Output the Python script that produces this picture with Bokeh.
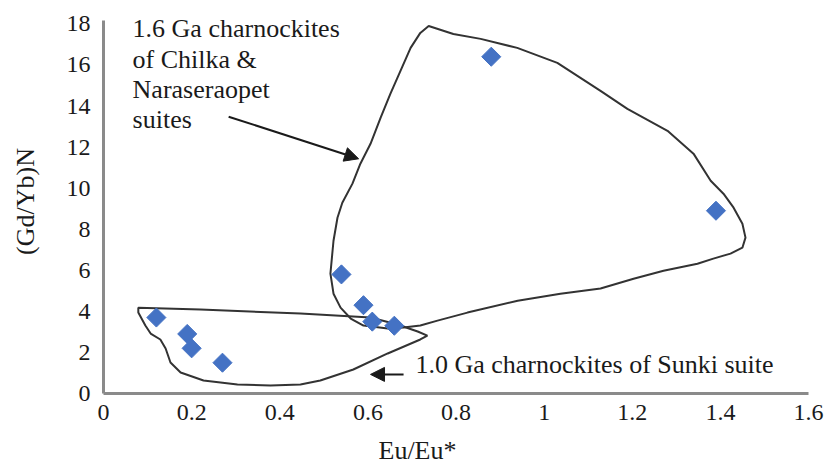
import numpy as np
from bokeh.plotting import figure
from bokeh.models import Arrow, NormalHead, Label, FixedTicker, Range1d, Title
from bokeh.embed import file_html
from bokeh.resources import INLINE

# ---- data ----
eu_eu = [0.12, 0.19, 0.20, 0.27, 0.54, 0.59, 0.61, 0.66, 0.88, 1.39]
gd_yb_n = [3.7, 2.9, 2.2, 1.5, 5.8, 4.3, 3.5, 3.3, 16.4, 8.9]

# envelope of 1.6 Ga charnockites (Chilka & Naraseraopet suites)
env16_x = [0.738, 0.794, 0.856, 0.939, 1.030, 1.128, 1.189, 1.280, 1.339, 1.378,
           1.407, 1.430, 1.450, 1.457, 1.450, 1.423, 1.384, 1.348, 1.271, 1.203,
           1.128, 1.037, 0.940, 0.826, 0.758, 0.719, 0.681, 0.645, 0.590, 0.561,
           0.538, 0.522, 0.515, 0.522, 0.531, 0.542, 0.565, 0.583, 0.606, 0.629,
           0.651, 0.674, 0.697, 0.719]
env16_y = [17.90, 17.51, 17.27, 16.83, 16.10, 14.74, 13.86, 12.79, 11.68, 10.36,
           9.73, 9.05, 8.27, 7.59, 7.10, 6.81, 6.57, 6.32, 5.98, 5.59,
           5.11, 4.86, 4.52, 3.94, 3.55, 3.31, 3.21, 3.16, 3.31, 3.65,
           4.18, 4.86, 5.84, 7.44, 8.56, 9.29, 10.22, 11.19, 12.16, 13.43,
           14.59, 15.71, 16.83, 17.56]

# envelope of 1.0 Ga charnockites (Sunki suite)
env10_x = [0.079, 0.220, 0.447, 0.606, 0.667, 0.713, 0.735, 0.719, 0.645, 0.567,
           0.492, 0.447, 0.379, 0.304, 0.227, 0.175, 0.152, 0.141, 0.129, 0.107,
           0.095, 0.079]
env10_y = [4.18, 4.09, 3.89, 3.70, 3.36, 3.02, 2.82, 2.63, 1.95, 1.17,
           0.63, 0.44, 0.39, 0.44, 0.63, 1.02, 1.51, 2.19, 2.63, 2.92,
           3.31, 3.94]

x_ticks = [0, 0.2, 0.4, 0.6, 0.8, 1.0, 1.2, 1.4, 1.6]
x_tick_labels = ["0", "0.2", "0.4", "0.6", "0.8", "1", "1.2", "1.4", "1.6"]
y_ticks = [0, 2, 4, 6, 8, 10, 12, 14, 16, 18]
y_tick_labels = [str(v) for v in y_ticks]

label_16 = "1.6 Ga charnockites\nof Chilka &\nNaraseraopet\nsuites"
label_10 = "1.0 Ga charnockites of Sunki suite"
x_title = "Eu/Eu*"
y_title = "(Gd/Yb)N"

FONT = "Liberation Serif"
TXT = "#1a1a1a"
AXC = "#8a8a8a"

p = figure(width=825, height=475, output_backend="svg", toolbar_location=None,
           x_range=Range1d(0, 1.6), y_range=Range1d(0, 18.7),
           min_border_left=103, min_border_right=17, min_border_top=9, min_border_bottom=82)
p.outline_line_color = None
p.xgrid.visible = False
p.ygrid.visible = False
p.background_fill_color = "white"

for ax in (p.xaxis[0], p.yaxis[0]):
    ax.axis_line_color = AXC
    ax.axis_line_width = 3
    ax.major_tick_line_color = None
    ax.minor_tick_line_color = None
    ax.major_tick_out = 0
    ax.major_tick_in = 0
    ax.major_label_text_font = FONT
    ax.major_label_text_font_size = "24px"
    ax.major_label_text_color = TXT

p.xaxis.ticker = FixedTicker(ticks=x_ticks)
p.xaxis.major_label_overrides = {t: l for t, l in zip(x_ticks, x_tick_labels)}
p.xaxis.major_label_standoff = 11
p.yaxis.ticker = FixedTicker(ticks=y_ticks)
p.yaxis.major_label_overrides = {t: l for t, l in zip(y_ticks, y_tick_labels)}
p.yaxis.major_label_standoff = 13
p.yaxis.bounds = (0, 18.15)

p.yaxis.axis_label = y_title
p.yaxis.axis_label_text_font = FONT
p.yaxis.axis_label_text_font_style = "normal"
p.yaxis.axis_label_text_font_size = "26px"
p.yaxis.axis_label_text_color = TXT
p.yaxis.axis_label_standoff = 24

p.add_layout(Title(text=x_title, align="left", offset=275, text_font=FONT,
                   text_font_size="26px", text_font_style="normal",
                   text_color=TXT, standoff=22), "below")

# envelopes
p.patch(env16_x, env16_y, fill_color=None, line_color="#333333", line_width=2)
p.patch(env10_x, env10_y, fill_color=None, line_color="#333333", line_width=2)

# data points (diamonds)
p.scatter(eu_eu, gd_yb_n, marker="square", angle=np.pi / 4, size=13.5,
          fill_color="#4472C4", line_color="#4472C4")

# annotations
p.add_layout(Label(x=0.066, y=18.46, text=label_16, text_font=FONT,
                   text_font_size="26px", text_color=TXT, text_baseline="top",
                   text_line_height=1.04))
p.add_layout(Label(x=0.708, y=1.41, text=label_10, text_font=FONT,
                   text_font_size="26px", text_color=TXT, text_baseline="alphabetic"))

p.add_layout(Arrow(end=NormalHead(size=14, fill_color="#1a1a1a", line_color="#1a1a1a"),
                   x_start=0.284, y_start=13.48, x_end=0.579, y_end=11.43,
                   line_color="#1a1a1a", line_width=2))
p.add_layout(Arrow(end=NormalHead(size=14, fill_color="#1a1a1a", line_color="#1a1a1a"),
                   x_start=0.681, y_start=0.93, x_end=0.606, y_end=0.93,
                   line_color="#1a1a1a", line_width=2))

open("out.html", "w").write(file_html(p, INLINE))
